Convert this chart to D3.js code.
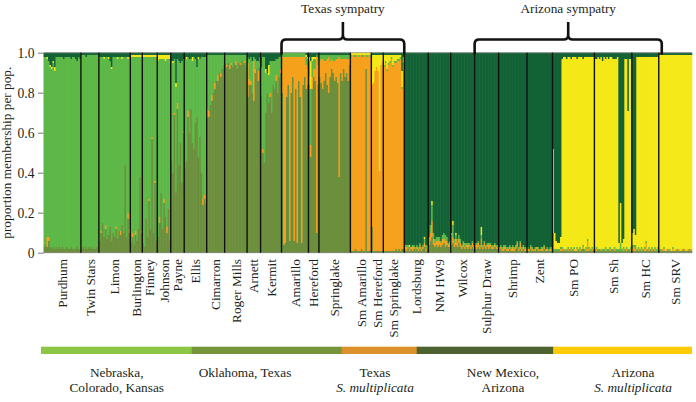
<!DOCTYPE html>
<html><head><meta charset="utf-8">
<script src="https://cdn.jsdelivr.net/npm/d3@7/dist/d3.min.js"></script>
<style>
body{margin:0;background:#fff}
svg{display:block}
</style>
</head><body>
<svg id="chart" width="696" height="402"></svg>
<script>
// ---------------- DATA ----------------
// cluster order (bottom to top of each bar)
const clusters = ["olive","orange","lightGreen","yellow","darkGreen"];
const popNames = ["Purdhum","Twin Stars","Limon","Burlington","Finney","Johnson","Payne","Ellis","Cimarron","Roger Mills","Arnett","Kermit","Amarillo","Hereford","Springlake","Sm Amarillo","Sm Hereford","Sm Springlake","Lordsburg","NM HW9","Wilcox","Sulphur Draw","Shrimp","Zent","Sm PO","Sm Sh","Sm HC","Sm SRV"];
// membership per individual, percent: [olive, orange, lightGreen, yellow, darkGreen]
const purdhum = [[3,0,95,0,2],[4,0,94,0,2],[3,5,89,1,2],[6,2,88,0,4],[3,0,90,1,6],[2,0,90,1,7],[3,0,92,1,4],[2,0,89,2,7],[3,0,95,0,2],[2,0,96,0,2],[3,0,95,0,2],[2,0,96,0,2],[3,0,95,0,2],[2,0,95,0,3],[2,0,96,0,2],[3,0,95,0,2],[2,0,96,0,2],[2,0,96,0,2],[3,0,94,0,3],[2,0,96,0,2],[2,0,96,0,2],[2,0,95,0,3],[3,0,93,0,4],[2,0,96,0,2],[2,0,95,0,3]];
const twinStars = [[2,0,97,0,1],[3,0,96,0,1],[2,0,97,0,1],[3,0,95,0,2],[2,0,97,0,1],[3,0,96,0,1],[2,0,97,0,1],[3,0,96,0,1],[2,0,97,0,1],[2,0,97,0,1],[3,0,96,0,1],[2,0,97,0,1]];
const limon = [[6,0,92,0,2],[10,1,87,0,2],[15,0,83,0,2],[8,0,89,1,2],[12,2,84,0,2],[7,0,91,0,2],[9,0,88,1,2],[13,0,83,0,4],[6,0,86,1,7],[10,0,88,0,2],[8,0,90,0,2],[12,1,85,0,2],[7,0,90,1,2],[11,0,87,0,2],[9,2,87,0,2],[14,0,83,1,2],[10,0,88,0,2],[44,0,54,0,2],[8,0,90,0,2],[17,3,77,1,2],[10,2,86,0,2]];
const burlington = [[5,0,93,1,1],[8,2,88,1,1],[4,0,94,1,1],[9,2,87,1,1],[6,0,92,1,1],[12,0,86,1,1],[38,0,60,1,1],[10,1,87,1,1]];
const finney = [[5,0,93,1,1],[3,0,95,1,1],[17,0,81,1,1],[8,0,90,1,1],[26,1,71,1,1],[12,0,86,1,1],[57,1,40,1,1],[10,0,88,1,1],[35,1,62,1,1],[6,0,92,1,1]];
const johnson = [[8,0,88,3,1],[15,3,79,2,1],[30,0,67,2,1],[12,0,85,2,1],[25,2,70,2,1],[18,0,78,3,1],[10,3,84,2,1],[22,0,75,2,1],[6,0,91,2,1]];
const payne = [[46,0,50,0,4],[40,0,55,1,4],[69,1,27,0,3],[30,0,53,2,15],[72,3,22,0,3],[44,0,52,0,4],[55,0,40,0,5],[35,0,61,0,4],[60,1,36,0,3]];
const ellis = [[42,0,55,0,3],[46,0,51,1,2],[68,3,27,0,2],[60,0,37,0,3],[72,0,25,0,3],[55,0,41,2,2],[52,0,46,0,2],[65,0,32,0,3],[68,0,25,0,7],[48,0,49,1,2],[58,0,39,0,3],[40,0,58,0,2],[24,3,71,0,2],[27,2,69,0,2],[25,0,73,0,2]];
const cimarron = [[68,4,27,0,1],[68,3,28,0,1],[74,0,25,0,1],[76,3,20,0,1],[80,0,19,0,1],[82,3,14,0,1],[86,0,13,0,1],[86,3,10,0,1],[90,0,9,0,1],[88,2,9,0,1],[92,0,7,0,1],[94,0,5,0,1]];
const rogerMills = [[94,0,5,0,1],[93,1,5,0,1],[95,0,4,0,1],[92,2,5,0,1],[94,1,4,0,1],[93,0,6,0,1],[95,0,4,0,1],[94,2,3,0,1],[92,0,7,0,1],[95,0,4,0,1],[94,1,4,0,1],[96,0,3,0,1],[94,0,5,0,1],[95,1,3,0,1],[93,0,6,0,1]];
const arnett = [[78,17,3,0,2],[84,3,10,0,3],[84,2,12,0,2],[80,0,16,0,4],[76,20,2,0,2],[90,2,5,0,3],[92,0,4,0,4],[86,5,5,0,4],[93,2,3,0,2]];
const kermit = [[78,0,15,0,7],[50,2,46,0,2],[45,0,53,0,2],[70,0,20,2,8],[80,0,10,0,10],[75,0,14,5,6],[78,2,16,0,4],[70,0,26,0,4],[84,0,12,0,4],[82,0,14,0,4],[86,3,8,0,3],[80,0,17,0,3],[88,0,10,0,2],[90,2,6,0,2]];
const amarillo = [[80,18,2,0,0],[4,94,2,0,0],[5,93,2,0,0],[78,20,2,0,0],[84,14,2,0,0],[6,92,2,0,0],[80,18,2,0,0],[88,10,2,0,0],[6,92,2,0,0],[82,16,2,0,0],[5,93,2,0,0],[86,12,2,0,0],[78,20,2,0,0],[5,93,2,0,0],[84,14,2,0,0],[88,10,2,0,0],[82,12,4,1,1],[84,8,5,1,2]];
const hereford = [[84,4,8,2,2],[48,6,28,14,4],[82,6,8,2,2],[88,4,5,1,2],[86,6,5,1,2],[10,88,1,0,1],[84,10,4,0,2]];
const springlake = [[88,8,3,0,1],[85,12,2,0,1],[82,15,2,0,1],[86,10,3,0,1],[90,6,3,0,1],[84,13,2,0,1],[80,18,1,0,1],[88,8,3,0,1],[92,5,2,0,1],[90,6,3,0,1],[86,10,3,0,1],[88,9,2,0,1],[85,12,2,0,1],[38,60,1,0,1],[90,7,2,0,1],[86,11,2,0,1],[92,5,2,0,1],[88,9,2,0,1],[90,7,2,0,1],[86,11,2,0,1],[94,3,2,0,1]];
const smAmarillo = [[1,97,1,1,0],[1,98,0,1,0],[1,97,1,1,0],[2,96,1,1,0],[1,98,0,1,0],[1,97,1,1,0],[1,98,0,1,0],[2,96,1,1,0],[1,97,1,1,0],[1,98,0,1,0],[92,6,1,1,0],[1,97,1,1,0],[1,98,0,1,0],[1,97,1,1,0]];
const smHereford = [[13,71,0,15,1],[1,84,0,14,1],[1,90,0,8,1],[1,92,0,6,1],[1,90,0,8,1],[1,40,0,58,1],[1,93,0,5,1],[1,95,0,3,1]];
const smSpringlake = [[1,92,1,5,1],[1,94,1,3,1],[1,90,1,7,1],[1,93,1,4,1],[1,94,1,3,1],[1,96,1,1,1],[1,92,1,5,1],[1,94,1,3,1],[2,93,1,3,1],[1,95,1,2,1],[2,94,1,2,1],[1,96,1,1,1],[2,80,1,8,9],[2,92,1,3,2]];
const lordsburg = [[2,1,1,0,96],[1,2,1,0,96],[2,0,2,0,96],[1,1,1,1,96],[2,1,0,0,97],[1,2,1,0,96],[2,1,1,0,96],[1,0,2,0,97],[2,1,1,0,96],[1,1,1,0,97],[2,2,1,0,95],[1,1,1,0,97],[2,1,1,0,96],[3,2,2,1,92],[1,1,2,0,96],[2,1,1,0,96]];
const nmHW9 = [[4,2,2,0,92],[6,4,4,0,86],[8,8,8,2,74],[4,3,3,0,90],[3,2,2,0,93],[4,2,2,0,92],[3,3,2,0,92],[4,2,2,0,92],[3,2,1,0,94],[4,3,2,0,91],[5,2,3,0,90],[3,3,3,0,91],[4,2,2,0,92],[3,1,1,0,95],[3,2,1,0,94]];
const wilcox = [[4,2,3,1,90],[5,3,6,2,84],[3,2,2,0,93],[4,3,2,1,90],[3,2,2,0,93],[5,2,2,0,91],[3,2,2,0,93],[2,1,1,0,96],[3,2,1,0,94],[2,1,2,0,95],[3,1,1,0,95],[2,2,1,0,95],[3,1,1,0,95],[2,1,1,0,96],[3,2,1,0,94],[2,1,1,0,96]];
const sulphurDraw = [[3,1,1,0,95],[2,2,1,0,95],[3,2,1,0,94],[2,1,1,0,96],[3,4,2,4,87],[2,1,1,0,96],[3,2,1,0,94],[2,1,1,0,96],[3,1,1,0,95],[2,2,1,0,95],[3,1,1,0,95],[2,1,1,0,96],[2,1,1,0,96],[3,1,1,0,95],[2,1,1,0,96],[2,1,1,0,96]];
const shrimp = [[1,1,1,0,97],[2,1,1,0,96],[1,1,1,0,97],[1,2,1,0,96],[2,1,1,0,96],[1,1,1,0,97],[1,1,1,0,97],[2,1,1,0,96],[1,1,1,0,97],[1,2,1,0,96],[1,1,1,0,97],[2,1,1,0,96],[3,2,1,0,94],[1,1,1,0,97],[2,3,1,0,94],[1,1,1,0,97],[2,1,1,0,96],[1,1,1,0,97],[1,1,1,0,97]];
const zent = [[1,1,1,0,97],[1,1,0,0,98],[2,1,1,0,96],[1,1,1,0,97],[1,0,1,0,98],[1,1,1,0,97],[2,1,0,0,97],[1,1,1,0,97],[1,0,1,0,98],[1,1,1,0,97],[1,1,1,0,97],[2,1,1,0,96],[1,1,0,0,98],[1,1,1,0,97],[1,0,1,0,98],[1,1,1,0,97],[1,1,1,0,97]];
const smPO = [[2,0,8,42,48],[1,0,1,8,90],[1,0,1,4,94],[1,0,1,3,95],[1,0,1,3,95],[1,1,1,5,92],[1,1,1,94,3],[1,0,1,96,2],[1,1,0,96,2],[1,0,1,95,3],[1,1,1,95,2],[1,0,1,96,2],[1,1,1,94,3],[1,0,1,96,2],[1,1,1,95,2],[1,0,0,97,2],[1,1,1,94,3],[1,0,1,96,2],[1,1,1,95,2],[1,0,1,96,2],[2,1,1,93,3],[1,0,1,96,2],[1,1,1,95,2],[1,5,1,91,2],[1,1,1,95,2],[1,0,1,96,2],[1,1,1,95,2],[1,0,1,96,2]];
const smSh = [[1,0,1,95,3],[1,1,1,94,3],[1,0,1,96,2],[1,0,1,95,3],[1,1,0,96,2],[1,0,1,94,4],[1,0,1,96,2],[1,1,1,94,3],[1,0,1,96,2],[1,0,1,95,3],[1,1,1,95,2],[1,0,1,96,2],[1,0,1,95,3],[1,1,1,94,3],[1,0,1,95,3],[1,0,1,96,2],[1,0,1,3,95],[1,0,4,20,75],[1,0,1,3,95],[1,1,1,4,93],[1,0,1,95,3],[1,1,1,94,3],[1,0,1,69,29],[1,0,1,95,3],[1,1,1,94,3]];
const smHC = [[1,1,2,6,90],[1,2,1,8,88],[1,1,2,5,91],[1,0,1,96,2],[1,1,1,95,2],[1,0,1,96,2],[1,1,1,95,2],[1,0,1,96,2],[1,1,1,95,2],[1,4,1,92,2],[1,0,1,96,2],[1,1,1,95,2],[1,0,1,96,2],[1,1,1,95,2],[1,0,1,96,2],[1,1,1,95,2],[1,0,1,96,2],[1,1,1,95,2]];
const smSRV = [[1,1,0,97,1],[1,0,1,97,1],[1,1,0,97,1],[1,1,1,96,1],[1,0,0,98,1],[1,1,0,97,1],[1,0,1,97,1],[1,1,0,97,1],[1,0,0,98,1],[1,1,1,96,1],[1,0,0,98,1],[1,1,0,97,1],[1,0,1,97,1],[1,1,0,97,1],[1,0,0,98,1],[1,1,0,97,1],[1,0,1,97,1],[1,1,0,97,1],[1,0,0,98,1],[1,1,0,97,1],[1,0,1,97,1],[1,1,0,97,1]];
const popMembership = [purdhum,twinStars,limon,burlington,finney,johnson,payne,ellis,cimarron,rogerMills,arnett,kermit,amarillo,hereford,springlake,smAmarillo,smHereford,smSpringlake,lordsburg,nmHW9,wilcox,sulphurDraw,shrimp,zent,smPO,smSh,smHC,smSRV];
const yTicks = [0,0.2,0.4,0.6,0.8,1.0];
const yTitle = "proportion membership per pop.";
const sympatry = [{label:"Texas sympatry",from:"Amarillo",to:"Sm Springlake"},{label:"Arizona sympatry",from:"Sulphur Draw",to:"Sm HC"}];
const regionLines = [["Nebraska,","Colorado, Kansas"],["Oklahoma, Texas"],["Texas","S. multiplicata"],["New Mexico,","Arizona"],["Arizona","S. multiplicata"]];
const regionItalic = [[false,false],[false],[false,true],[false,false],[false,true]];

// ---------------- STYLE / LAYOUT ----------------
const FONT = "'Liberation Serif','Times New Roman','DejaVu Serif',serif";
const TXT = "#231f20";
const clusterColors = {olive:"#6c8f3d",orange:"#f6a11c",lightGreen:"#5db847",yellow:"#f4e917",darkGreen:"#136236"};
const regionColors = ["#8dc647","#76953a","#db922b","#4e6131","#fecb05"];
const regionSpans = [[41,191.7],[191.7,341.7],[341.7,416.7],[416.7,553.3],[553.3,691.7]];
const regionLabelX = [116.7,245,375,503,633];
const plot = {left:43.5,right:691.7,top:52.7,bottom:252.7};
const FS = 13.3;

// ---------------- BUILD ----------------
const svg = d3.select("#chart");
function txt(sel){ return sel.style("font-family",FONT).style("fill",TXT).style("font-size",FS+"px"); }

const rows = [];
const popStart = [];
popMembership.forEach((pop,p)=>{
  popStart.push(rows.length);
  pop.forEach(q=>{
    const s = d3.sum(q);
    const r = {pop:p,idx:rows.length};
    clusters.forEach((c,k)=>r[c]=q[k]/s);
    rows.push(r);
  });
});
popStart.push(rows.length);

const x = d3.scaleBand().domain(d3.range(rows.length)).range([plot.left,plot.right]).padding(0);
const y = d3.scaleLinear().domain([0,1]).range([plot.bottom,plot.top]);
const bw = x.bandwidth();

const stacked = d3.stack().keys(clusters)(rows);
const segs = rows.map((r,i)=>clusters.map((c,k)=>({key:c,y0:stacked[k][i][0],y1:stacked[k][i][1]})).filter(s=>s.y1-s.y0>0));

const gBars = svg.append("g");
gBars.selectAll("g.ind").data(rows).join("g").attr("class","ind")
  .each(function(r,i){
    d3.select(this).selectAll("rect").data(segs[i]).join("rect")
      .attr("x",x(i)).attr("width",bw+0.6)
      .attr("y",s=>y(s.y1)).attr("height",s=>y(s.y0)-y(s.y1)+0.3)
      .attr("fill",s=>clusterColors[s.key]);
  });

// frame lines top/bottom
svg.append("line").attr("x1",plot.left).attr("x2",plot.right).attr("y1",y(1)).attr("y2",y(1)).attr("stroke","#8a8a8a").attr("stroke-width",0.8);
svg.append("line").attr("x1",plot.left).attr("x2",plot.right).attr("y1",y(0)).attr("y2",y(0)).attr("stroke","#8a8a8a").attr("stroke-width",0.8);

// population boundaries
svg.append("g").selectAll("line").data(popStart.slice(1,-1)).join("line")
  .attr("x1",d=>x(d)).attr("x2",d=>x(d)).attr("y1",y(1)).attr("y2",y(0))
  .attr("stroke","#111").attr("stroke-width",1.4);

// y axis
const yAxis = d3.axisLeft(y).tickValues(yTicks).tickSize(5.5).tickPadding(3.5)
  .tickFormat(d=>d===0?"0":d3.format(".1f")(d));
const ga = svg.append("g").attr("transform",`translate(${plot.left},0)`).call(yAxis);
ga.attr("font-family",null).attr("font-size",null);
ga.select(".domain").remove();
ga.selectAll(".tick line").attr("stroke","#777");
txt(ga.selectAll(".tick text")).style("font-size",(FS+0.3)+"px");

txt(svg.append("text").attr("transform",`translate(11,${(plot.top+plot.bottom)/2}) rotate(-90)`)
  .attr("text-anchor","middle").text(yTitle));

// population labels
txt(svg.append("g").selectAll("text").data(popNames).join("text")
  .attr("transform",(d,p)=>{
    const cx = (x(popStart[p]) + x(popStart[p+1]-1)+bw)/2;
    return `translate(${cx},259) rotate(-90)`;})
  .attr("text-anchor","end").attr("dy","0.35em").text(d=>d));

// sympatry braces
function brace(x0,x1){
  const yh=39.5, ye=54.5, yc=22, r=4.5, xm=(x0+x1)/2;
  return `M${x0},${ye}L${x0},${yh+r}Q${x0},${yh} ${x0+r},${yh}L${xm-r},${yh}Q${xm},${yh} ${xm},${yh-r}L${xm},${yc}M${xm},${yh-r}Q${xm},${yh} ${xm+r},${yh}L${x1-r},${yh}Q${x1},${yh} ${x1},${yh+r}L${x1},${ye}`;
}
sympatry.forEach((s,i)=>{
  const a = popNames.indexOf(s.from), b = popNames.indexOf(s.to);
  const x0 = x(popStart[a]);
  const x1 = x(popStart[b+1]-1)+bw + (i===1?3:0);
  svg.append("path").attr("d",brace(x0,x1)).attr("fill","none").attr("stroke","#111").attr("stroke-width",2.6);
  txt(svg.append("text").attr("x",(x0+x1)/2).attr("y",12.5).attr("text-anchor","middle").text(s.label));
});

// region legend
svg.append("g").selectAll("rect").data(regionSpans).join("rect")
  .attr("x",d=>d[0]).attr("width",d=>d[1]-d[0]+0.3).attr("y",346.7).attr("height",7.3)
  .attr("fill",(d,i)=>regionColors[i]);
regionLines.forEach((lines,i)=>{
  lines.forEach((t,j)=>{
    txt(svg.append("text").attr("x",regionLabelX[i]).attr("y",376.7+j*15).attr("text-anchor","middle")
      .style("font-style",regionItalic[i][j]?"italic":"normal").text(t));
  });
});
</script>
</body></html>
